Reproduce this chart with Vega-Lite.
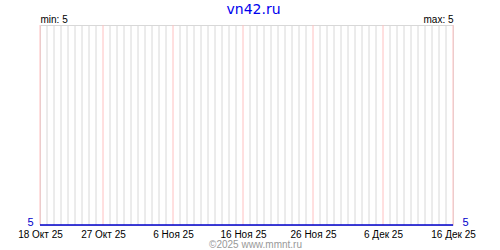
{
  "$schema": "https://vega.github.io/schema/vega-lite/v6.json",
  "width": 413,
  "height": 200,
  "autosize": {"type": "none"},
  "padding": {"left": 40, "top": 25, "right": 47, "bottom": 25},
  "background": "white",
  "title": {"text": "vn42.ru", "color": "#0000ee", "fontSize": 14, "font": "DejaVu Sans", "fontWeight": "normal", "anchor": "middle", "frame": "group", "dx": 7, "dy": 15, "baseline": "alphabetic", "offset": 1},
  "config": {"view": {"stroke": "#d8d8d8", "strokeWidth": 1}},
  "data": {"values": [
    {"date": "2025-10-18", "value": 5}, {"date": "2025-10-19", "value": 5}, {"date": "2025-10-20", "value": 5}, {"date": "2025-10-21", "value": 5}, {"date": "2025-10-22", "value": 5}, {"date": "2025-10-23", "value": 5}, {"date": "2025-10-24", "value": 5}, {"date": "2025-10-25", "value": 5}, {"date": "2025-10-26", "value": 5}, {"date": "2025-10-27", "value": 5}, {"date": "2025-10-28", "value": 5}, {"date": "2025-10-29", "value": 5}, {"date": "2025-10-30", "value": 5}, {"date": "2025-10-31", "value": 5},
    {"date": "2025-11-01", "value": 5}, {"date": "2025-11-02", "value": 5}, {"date": "2025-11-03", "value": 5}, {"date": "2025-11-04", "value": 5}, {"date": "2025-11-05", "value": 5}, {"date": "2025-11-06", "value": 5}, {"date": "2025-11-07", "value": 5}, {"date": "2025-11-08", "value": 5}, {"date": "2025-11-09", "value": 5}, {"date": "2025-11-10", "value": 5}, {"date": "2025-11-11", "value": 5}, {"date": "2025-11-12", "value": 5}, {"date": "2025-11-13", "value": 5}, {"date": "2025-11-14", "value": 5}, {"date": "2025-11-15", "value": 5}, {"date": "2025-11-16", "value": 5}, {"date": "2025-11-17", "value": 5}, {"date": "2025-11-18", "value": 5}, {"date": "2025-11-19", "value": 5}, {"date": "2025-11-20", "value": 5}, {"date": "2025-11-21", "value": 5}, {"date": "2025-11-22", "value": 5}, {"date": "2025-11-23", "value": 5}, {"date": "2025-11-24", "value": 5}, {"date": "2025-11-25", "value": 5}, {"date": "2025-11-26", "value": 5}, {"date": "2025-11-27", "value": 5}, {"date": "2025-11-28", "value": 5}, {"date": "2025-11-29", "value": 5}, {"date": "2025-11-30", "value": 5},
    {"date": "2025-12-01", "value": 5}, {"date": "2025-12-02", "value": 5}, {"date": "2025-12-03", "value": 5}, {"date": "2025-12-04", "value": 5}, {"date": "2025-12-05", "value": 5}, {"date": "2025-12-06", "value": 5}, {"date": "2025-12-07", "value": 5}, {"date": "2025-12-08", "value": 5}, {"date": "2025-12-09", "value": 5}, {"date": "2025-12-10", "value": 5}, {"date": "2025-12-11", "value": 5}, {"date": "2025-12-12", "value": 5}, {"date": "2025-12-13", "value": 5}, {"date": "2025-12-14", "value": 5}, {"date": "2025-12-15", "value": 5}, {"date": "2025-12-16", "value": 5}
  ]},
  "encoding": {
    "x": {
      "field": "date", "type": "temporal",
      "scale": {"type": "utc", "domain": [{"year": 2025, "month": 10, "date": 18, "utc": true}, {"year": 2025, "month": 12, "date": 16, "utc": true}]},
      "axis": {
        "values": [
          {"year": 2025, "month": 10, "date": 18, "utc": true},
          {"year": 2025, "month": 10, "date": 27, "utc": true},
          {"year": 2025, "month": 11, "date": 6, "utc": true},
          {"year": 2025, "month": 11, "date": 16, "utc": true},
          {"year": 2025, "month": 11, "date": 26, "utc": true},
          {"year": 2025, "month": 12, "date": 6, "utc": true},
          {"year": 2025, "month": 12, "date": 16, "utc": true}
        ],
        "labelExpr": "utcdate(datum.value) + ' ' + ['Янв','Фев','Мар','Апр','Май','Июн','Июл','Авг','Сен','Окт','Ноя','Дек'][utcmonth(datum.value)] + ' 25'",
        "grid": false,
        "domain": false, "ticks": false, "labelPadding": 4,
        "labelFont": "Liberation Sans", "labelFontSize": 10, "labelColor": "#000000",
        "labelOverlap": false, "labelFlush": false, "labelBound": false,
        "title": "©2025 www.mmnt.ru", "titleFont": "Liberation Sans", "titleFontSize": 10, "titleFontWeight": "normal", "titleColor": "#999999",
        "titleX": 215, "titleY": 22, "titleBaseline": "alphabetic", "titleAlign": "center"
      }
    }
  },
  "layer": [
    {
      "transform": [{"filter": "indexof(['2025-10-18','2025-10-27','2025-11-06','2025-11-16','2025-11-26','2025-12-06','2025-12-16'], utcFormat(datum.date, '%Y-%m-%d')) < 0"}],
      "mark": {"type": "rule", "color": "#d8d8d8", "strokeWidth": 1},
      "encoding": {}
    },
    {
      "transform": [{"filter": "indexof(['2025-10-18','2025-10-27','2025-11-06','2025-11-16','2025-11-26','2025-12-06','2025-12-16'], utcFormat(datum.date, '%Y-%m-%d')) >= 0"}],
      "mark": {"type": "rule", "color": "#ffc0c0", "strokeWidth": 1},
      "encoding": {}
    },
    {
      "mark": {"type": "line", "color": "#0000cc", "strokeWidth": 1.5},
      "encoding": {
        "y": {
          "field": "value", "type": "quantitative",
          "scale": {"domain": [5, 6], "nice": false, "zero": false},
          "axis": {
            "orient": "left", "values": [5], "grid": false, "domain": false, "ticks": false,
            "labelColor": "#0000cc", "labelFont": "Liberation Sans", "labelFontSize": 11, "labelPadding": 7, "labelBaseline": "alphabetic",
            "title": "min: 5", "titleAngle": 0, "titleX": 0, "titleY": -3, "titleAlign": "left", "titleBaseline": "alphabetic",
            "titleFont": "Liberation Sans", "titleFontSize": 10, "titleFontWeight": "normal", "titleColor": "#000000"
          }
        }
      }
    },
    {
      "mark": {"type": "line", "color": "#0000cc", "strokeWidth": 1.5, "opacity": 0},
      "encoding": {
        "y": {
          "field": "value", "type": "quantitative",
          "axis": {
            "orient": "right", "values": [5], "grid": false, "domain": false, "ticks": false,
            "labelColor": "#0000cc", "labelFont": "Liberation Sans", "labelFontSize": 11, "labelPadding": 9, "labelBaseline": "alphabetic",
            "title": "max: 5", "titleAngle": 0, "titleX": 0, "titleY": -3, "titleAlign": "right", "titleBaseline": "alphabetic",
            "titleFont": "Liberation Sans", "titleFontSize": 10, "titleFontWeight": "normal", "titleColor": "#000000"
          }
        }
      }
    }
  ],
  "resolve": {"axis": {"y": "independent"}}
}
